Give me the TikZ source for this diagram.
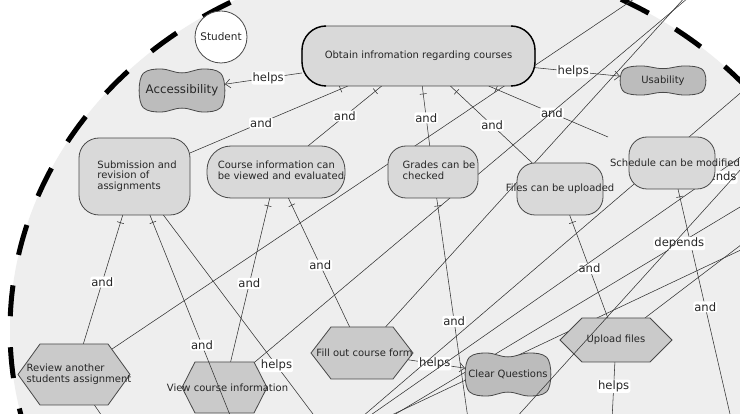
\documentclass[tikz,border=0pt]{standalone}
\usepackage{fontspec}
\setmainfont{DejaVu Sans}
\usetikzlibrary{arrows.meta,calc,decorations.markings}
\pgfdeclarelayer{back}
\pgfdeclarelayer{links}
\pgfdeclarelayer{shapes}
\pgfdeclarelayer{over}
\pgfsetlayers{back,links,shapes,main,over}

\definecolor{actorfill}{HTML}{EEEEEE}
\definecolor{goalfill}{HTML}{D9D9D9}
\definecolor{softfill}{HTML}{BCBCBC}
\definecolor{taskfill}{HTML}{CACACA}
\definecolor{edgecol}{HTML}{484848}
\definecolor{linkcol}{HTML}{333333}
\definecolor{txtcol}{HTML}{262626}

\newcommand{\ntxt}{\fontsize{10}{10}\selectfont}
\newcommand{\ltxt}{\fontsize{11.6}{12}\selectfont}

\tikzset{
  goal/.style={draw=edgecol, fill=goalfill, line width=0.8pt, rounded corners=#1, inner sep=0pt, outer sep=0pt, font=\ntxt, text=txtcol},
  goal/.default=18pt,
  taskshape/.style={draw=edgecol, fill=taskfill, line width=0.8pt},
  softshape/.style={draw=edgecol, fill=softfill, line width=0.8pt},
  plain/.style={inner sep=0pt, outer sep=0pt, font=\ntxt, text=txtcol},
  link/.style={draw=linkcol, line width=0.55pt},
  lbl/.style={fill=white, rounded corners=2pt, inner sep=1pt, font=\ltxt, text=txtcol},
  helpsto/.style={-{Straight Barb[length=5pt,width=9pt]}},
  andtick/.style={postaction={decorate}, decoration={markings, mark=at position -8pt with {\draw[linkcol, line width=0.55pt] (0pt,-3.5pt) -- (0pt,3.5pt);}}},
  boundary/.style={draw=black, line width=5pt, dash pattern=on 31pt off 31pt, dash phase=41pt, fill=actorfill},
  goalrim/.style={draw=black, line width=1.4pt}
}

% task: name, x, y, half width, half height, slant, text
\newcommand{\taskhex}[7]{%
  \node[plain, minimum width={(#4-#6)*2pt}, minimum height={#5*2pt}] (#1) at (#2,#3) {#7};
  \begin{pgfonlayer}{shapes}
  \draw[taskshape] ([xshift=-#6pt]#1.west) -- (#1.north west) -- (#1.north east) -- ([xshift=#6pt]#1.east) -- (#1.south east) -- (#1.south west) -- cycle;
  \end{pgfonlayer}
}
% softgoal: name, x, y, half width, half height, text
\newcommand{\softgoal}[6]{%
  \node[plain, minimum width={#4*2pt}, minimum height={#5*2pt}] (#1) at (#2,#3) {#6};
  \begin{pgfonlayer}{shapes}
  \draw[softshape, shift={(#1.center)}, x=#4pt, y=#5pt]
    (-0.9,0.8) .. controls (-0.8,0.98) and (-0.65,1.0) .. (-0.5,1.0)
    .. controls (-0.3,1.0) and (-0.2,0.82) .. (0,0.82)
    .. controls (0.2,0.82) and (0.3,1.0) .. (0.5,1.0)
    .. controls (0.65,1.0) and (0.8,0.98) .. (0.9,0.8)
    .. controls (1.03,0.55) and (1.03,-0.55) .. (0.9,-0.8)
    .. controls (0.8,-0.98) and (0.65,-1.0) .. (0.5,-1.0)
    .. controls (0.3,-1.0) and (0.2,-0.82) .. (0,-0.82)
    .. controls (-0.2,-0.82) and (-0.3,-1.0) .. (-0.5,-1.0)
    .. controls (-0.65,-1.0) and (-0.8,-0.98) .. (-0.9,-0.8)
    .. controls (-1.03,-0.55) and (-1.03,0.55) .. (-0.9,0.8) -- cycle;
  \end{pgfonlayer}
}

\begin{document}
\begin{tikzpicture}[x=1pt, y=-1pt]
\useasboundingbox (0,0) rectangle (740,414);
\begin{pgfonlayer}{back}
\fill[white] (0,0) rectangle (740,414);
\draw[boundary] (429,330) ellipse [x radius=419pt, y radius=372pt];
\end{pgfonlayer}

% actor
\node[circle, draw=edgecol, fill=white, line width=0.8pt, minimum size=52pt, inner sep=0pt, font=\fontsize{10.5}{11}\selectfont, text=txtcol] (student) at (221,37) {Student};

% goals
\node[goal=24pt, minimum width=233pt, minimum height=60pt] (obtain) at (418.5,56) {\makebox[0pt]{Obtain infromation regarding courses}};
\draw[goalrim] ($(obtain.north west)+(24,0)$) arc[start angle=90, end angle=180, radius=24pt] -- ++(0,12) arc[start angle=180, end angle=270, radius=24pt];
\draw[goalrim] ($(obtain.north east)+(-24,0)$) arc[start angle=90, end angle=0, radius=24pt] -- ++(0,12) arc[start angle=0, end angle=-90, radius=24pt];
\node[goal=20pt, minimum width=111pt, minimum height=77pt] (sub) at (134.5,176.5) {\makebox[0pt]{\hspace{5pt}\begin{tabular}{@{}l@{}}Submission and\\revision of\\assignments\end{tabular}}};
\node[goal=24pt, minimum width=138pt, minimum height=52pt] (cinfo) at (276,172) {\makebox[0pt]{\hspace{10pt}\begin{tabular}{@{}l@{}}Course information can\\be viewed and evaluated\end{tabular}}};
\node[goal, minimum width=90pt, minimum height=52pt] (grades) at (433,172) {\makebox[0pt]{\hspace{12pt}\begin{tabular}{@{}l@{}}Grades can be\\checked\end{tabular}}};
\node[goal, minimum width=86pt, minimum height=52pt] (files) at (560,189) {\makebox[0pt]{Files can be uploaded}};
\node[goal, minimum width=86pt, minimum height=52pt] (sched) at (672,163) {\makebox[0pt]{\hspace{6pt}Schedule can be modified}};

% softgoals
\softgoal{acc}{182}{90.5}{43}{21.5}{\fontsize{11.8}{12}\selectfont Accessibility}
\softgoal{usab}{663}{80.5}{43}{14.5}{Usability}
\softgoal{clear}{508}{374.5}{43}{21.5}{\makebox[0pt]{Clear Questions}}

% tasks
\taskhex{review}{74}{374.5}{56}{30.5}{22}{\makebox[0pt]{\hspace{10pt}\begin{tabular}{@{}l@{}}Review another\\students assignment\end{tabular}}}
\taskhex{viewci}{224.5}{387.5}{42.5}{25.5}{13}{\makebox[0pt]{\hspace{6pt}View course information}}
\taskhex{fill}{362}{353}{51}{26}{20}{\makebox[0pt]{\hspace{5pt}Fill out course form}}
\taskhex{upload}{616}{340}{56}{22}{22}{Upload files}

% far ends of links leaving the view
\coordinate (schedL) at (608,137);
\coordinate (oA) at (722,-60);
\coordinate (oB) at (757,-60);
\coordinate (oC) at (737,-60);
\coordinate (hubA) at (335,440);
\coordinate (oD) at (800,42);
\coordinate (oE) at (800,115.5);
\coordinate (sI) at (360,430);
\coordinate (oI) at (800,222);
\coordinate (sJ) at (369,430);
\coordinate (oJ) at (800,171);
\coordinate (sF) at (505,430);
\coordinate (oF) at (790,115);
\coordinate (oG) at (800,200);
\coordinate (belowA) at (236,430);
\coordinate (belowB) at (325,430);
\coordinate (belowC) at (471,440);
\coordinate (belowD) at (736,440);
\coordinate (belowE) at (611,440);
\coordinate (belowF) at (118,440);

\begin{pgfonlayer}{links}
\draw[link, helpsto] (obtain) -- node[lbl, pos=0.44] (h1) {helps} (acc);
\draw[link, helpsto] (obtain) -- node[lbl, pos=0.45] (h2) {helps} (usab);
\draw[link, andtick] (sub) -- node[lbl, pos=0.45] (a1) {and} (obtain);
\draw[link, andtick] (cinfo) -- node[lbl, pos=0.5] (a2) {and} (obtain);
\draw[link, andtick] (grades) -- node[lbl, pos=0.47] (a3) {and} (obtain);
\draw[link, andtick] (files) -- node[lbl, pos=0.49] (a4) {and} (obtain);
\draw[link, andtick] (schedL) -- node[lbl, pos=0.47] (a5) {and} (obtain);
\draw[link, andtick] (review) -- node[lbl, pos=0.48] (a6) {and} (sub);
\draw[link] (sub) -- node[lbl, pos=0.70] (h3) {helps} (belowB);
\draw[link, andtick] (viewci) -- node[lbl, pos=0.48] (a8) {and} (cinfo);
\draw[link, andtick] (fill) -- node[lbl, pos=0.48] (a9) {and} (cinfo);
\draw[link, andtick] (belowC) -- node[lbl, pos=0.49] (a10) {and} (grades);
\draw[link, andtick] (upload) -- node[lbl, pos=0.48] (a11) {and} (files);
\draw[link, andtick] (belowD) -- node[lbl, pos=0.53] (a12) {and} (sched);
\draw[link, helpsto] (fill) -- node[lbl, pos=0.58] (h4) {helps} (clear);
\draw[link] (upload) -- node[lbl, pos=0.31] (h5) {helps} (belowE);
\draw[link] (review) -- (belowF);
\draw[link] (review) -- (oA);
\draw[link] (viewci) -- (oB);
\draw[link] (fill) -- (oC);
\draw[link] (hubA) -- (oD);
\draw[link] (hubA) -- node[lbl, pos=0.81] (d1) {depends} (oE);
\draw[link] (sI) -- (oI);
\draw[link] (sJ) -- node[lbl, pos=0.72] (d2) {depends} (oJ);
\draw[link] (upload) -- (oG);
\end{pgfonlayer}

\begin{pgfonlayer}{over}
\draw[link, andtick] (belowA) -- node[lbl, pos=0.395] (a7) {and} (sub);
\draw[link] (sF) -- (oF);
\end{pgfonlayer}
\end{tikzpicture}
\end{document}
